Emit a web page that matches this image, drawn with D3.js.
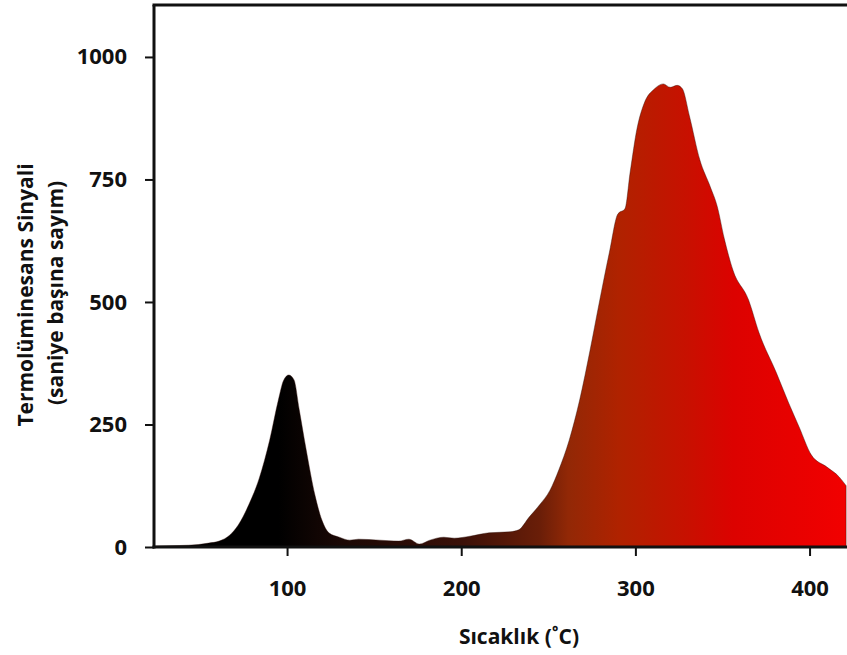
<!DOCTYPE html>
<html>
<head>
<meta charset="utf-8">
<script src="https://cdn.jsdelivr.net/npm/d3@7"></script>
<style>
  body { margin: 0; background: #fff; }
  text { font-family: "Open Sans", "Noto Sans", sans-serif; font-weight: bold; fill: #111; }
</style>
</head>
<body>
<div id="chart"></div>
<script>
// temperature (°C)
var temps = [24, 38, 49, 55, 61, 67, 72, 78, 84, 90, 95, 98, 101, 104, 107, 111, 116, 120, 124,
  130, 136, 141, 153, 164, 170, 176, 182, 190, 196, 205, 216, 228, 233, 239, 245, 251, 256,
  262, 268, 274, 279, 285, 290, 294, 297, 301, 305, 311, 316, 320, 324, 327, 331, 337, 343,
  347, 351, 356, 365, 371, 381, 388, 394, 401, 410, 417, 421];
// TL signal (counts per second)
var counts = [2, 3, 5, 8, 12, 24, 45, 86, 140, 218, 300, 340, 351, 341, 280, 198, 106, 55, 29,
  20, 14, 16, 14, 12, 16, 6, 14, 20, 18, 22, 29, 31, 35, 61, 86, 116, 157,
  218, 300, 402, 494, 600, 680, 690, 765, 855, 905, 935, 945, 938, 942, 935, 880, 790, 735,
  695, 630, 565, 504, 437, 355, 294, 245, 188, 163, 143, 125];
var yTicks = [0, 250, 500, 750, 1000];
var xTicks = [100, 200, 300, 400];

var width = 847, height = 655;
var m = { left: 154, right: 0, top: 5, bottom: 108 };

var svg = d3.select("#chart").append("svg")
    .attr("width", width)
    .attr("height", height);

var x = d3.scaleLinear().domain([23.6, 421.5]).range([m.left, width - m.right]);
var y = d3.scaleLinear().domain([0, 1106]).range([height - m.bottom, m.top]);

var data = temps.map(function(t, i) { return { t: t, v: counts[i] }; });

// horizontal gradient black -> red
var grad = svg.append("defs").append("linearGradient")
    .attr("id", "fillGrad")
    .attr("gradientUnits", "userSpaceOnUse")
    .attr("x1", x(95)).attr("x2", x(421.5))
    .attr("y1", 0).attr("y2", 0);
[["0", "#000000"], ["0.107", "#1a0805"], ["0.32", "#3a1008"], ["0.46", "#6a1e08"],
 ["0.51", "#922806"], ["0.60", "#b02200"], ["0.72", "#c81000"], ["0.80", "#dc0200"],
 ["1", "#f20000"]].forEach(function(s) {
  grad.append("stop").attr("offset", s[0]).attr("stop-color", s[1]);
});

var area = d3.area()
    .x(function(d) { return x(d.t); })
    .y0(y(0))
    .y1(function(d) { return y(d.v); })
    .curve(d3.curveMonotoneX);

svg.append("path")
    .datum(data)
    .attr("d", area)
    .attr("fill", "url(#fillGrad)")
    .attr("stroke", "#2a0a04")
    .attr("stroke-width", 0.8)
    .attr("stroke-opacity", 0.5);

// frame: left, bottom, top
var frame = svg.append("g").attr("stroke", "#111").attr("stroke-width", 3).attr("fill", "none");
frame.append("line").attr("x1", m.left).attr("x2", m.left).attr("y1", m.top).attr("y2", y(0) + 1.5);
frame.append("line").attr("x1", m.left - 1.5).attr("x2", width).attr("y1", y(0)).attr("y2", y(0));
frame.append("line").attr("x1", m.left - 1.5).attr("x2", width).attr("y1", m.top).attr("y2", m.top);

var yAxis = svg.append("g")
    .attr("transform", "translate(" + m.left + ",0)")
    .call(d3.axisLeft(y).tickValues(yTicks).tickFormat(d3.format("d")).tickSize(9).tickPadding(18));
var xAxis = svg.append("g")
    .attr("transform", "translate(0," + y(0) + ")")
    .call(d3.axisBottom(x).tickValues(xTicks).tickFormat(d3.format("d")).tickSize(9).tickPadding(24));

[yAxis, xAxis].forEach(function(a) {
  a.select(".domain").remove();
  a.selectAll(".tick line").attr("stroke", "#111").attr("stroke-width", 2);
  a.selectAll(".tick text").style("font-size", "22px").style("font-family", "\"Open Sans\", sans-serif")
    .style("font-weight", "bold").attr("fill", "#111");
});

svg.append("text")
    .attr("x", 519).attr("y", 644)
    .attr("text-anchor", "middle")
    .style("font-size", "21px")
    .text("Sıcaklık (˚C)");

svg.append("text")
    .attr("transform", "translate(33,295) rotate(-90)")
    .attr("text-anchor", "middle")
    .style("font-size", "21px")
    .text("Termolüminesans Sinyali");
svg.append("text")
    .attr("transform", "translate(63,293) rotate(-90)")
    .attr("text-anchor", "middle")
    .style("font-size", "21px")
    .text("(saniye başına sayım)");
</script>
</body>
</html>
